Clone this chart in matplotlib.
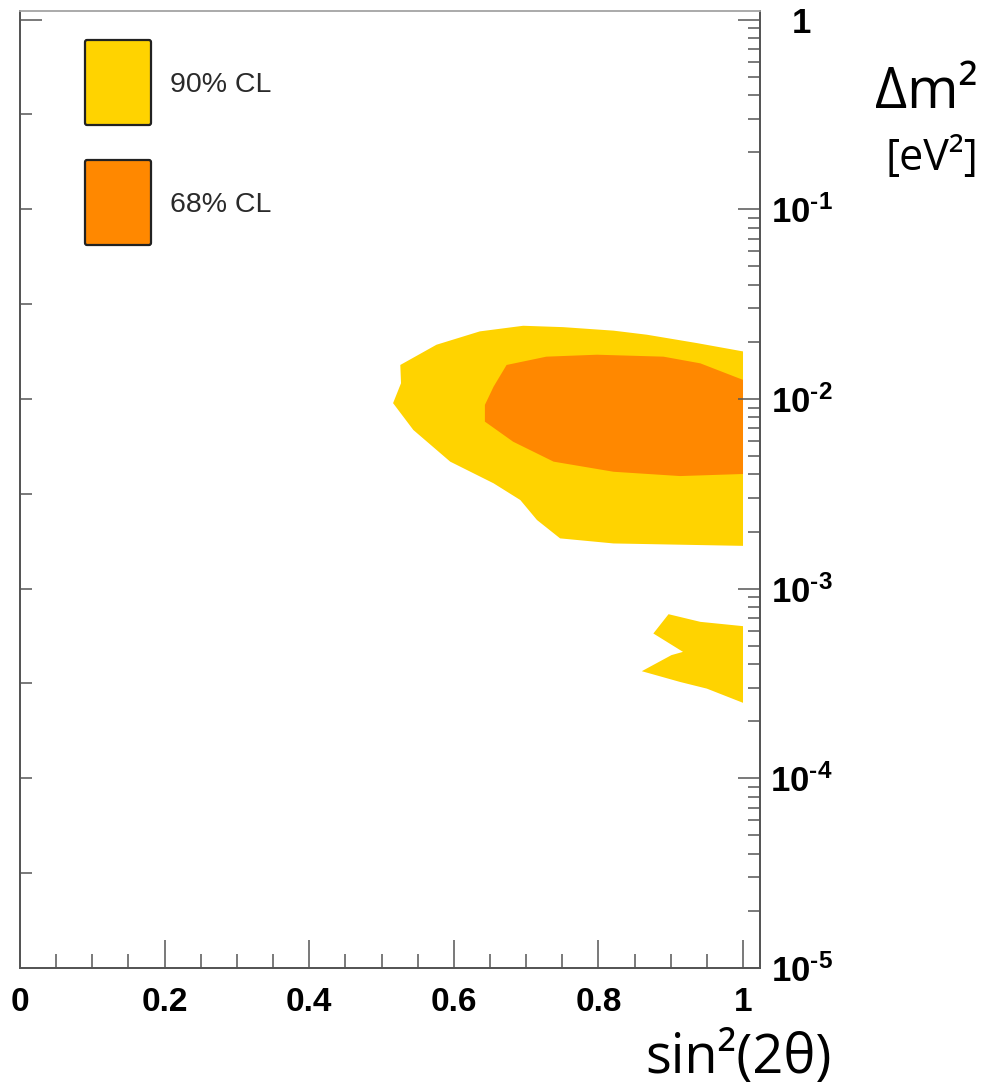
import numpy as np
import matplotlib.pyplot as plt
from matplotlib.patches import FancyBboxPatch
from matplotlib.ticker import FixedLocator, FuncFormatter, NullFormatter

plt.rcParams['mathtext.fontset'] = 'custom'
plt.rcParams['mathtext.rm'] = 'Liberation Sans:bold'
plt.rcParams['mathtext.bf'] = 'Liberation Sans:bold'
plt.rcParams['axes.unicode_minus'] = False

# 90% CL contour (main region), sin^2(2theta) vs dm^2
cl90_x = [1.0, 0.936, 0.867, 0.821, 0.751, 0.696, 0.636, 0.576, 0.526, 0.527,
          0.516, 0.544, 0.595, 0.655, 0.692, 0.715, 0.747, 0.821, 1.0]
cl90_y = [0.0178, 0.0197, 0.0218, 0.0229, 0.0239, 0.0243, 0.0227, 0.0193, 0.0151,
          0.0121, 0.0095, 0.00686, 0.00467, 0.00359, 0.00293, 0.00230, 0.00184,
          0.00173, 0.00168]

# 90% CL island at low dm^2
island_x = [0.897, 0.876, 0.917, 0.901, 0.860, 0.913, 0.950, 1.0, 1.0, 0.941]
island_y = [7.33e-4, 5.80e-4, 4.64e-4, 4.46e-4, 3.67e-4, 3.22e-4, 2.97e-4,
            2.50e-4, 6.34e-4, 6.68e-4]

# 68% CL contour
cl68_x = [1.0, 0.941, 0.890, 0.798, 0.728, 0.673, 0.655, 0.643, 0.643, 0.682,
          0.738, 0.821, 0.913, 1.0]
cl68_y = [0.0126, 0.0154, 0.0167, 0.0171, 0.0167, 0.0151, 0.0116, 0.00930,
          0.00759, 0.00595, 0.00467, 0.00413, 0.00392, 0.00402]

legend_labels = ["90% CL", "68% CL"]
YELLOW = "#FFD300"
ORANGE = "#FF8800"

fig = plt.figure(figsize=(9.89, 10.86), dpi=100)
ax = fig.add_axes([20 / 989, 1 - 968 / 1086, 740 / 989, 957 / 1086])

ax.fill(cl90_x, cl90_y, color=YELLOW, lw=0)
ax.fill(island_x, island_y, color=YELLOW, lw=0)
ax.fill(cl68_x, cl68_y, color=ORANGE, lw=0)

ax.set_yscale("log")
ax.set_xlim(0, 1.0235)
ax.set_ylim(1e-5, 1.109)

# left side ticks (half decades) on a twin axis
axl = ax.twinx()
axl.set_yscale("log")
axl.set_ylim(ax.get_ylim())
axl.yaxis.tick_left()
axl.yaxis.set_major_locator(FixedLocator([1]))
axl.yaxis.set_minor_locator(FixedLocator([10 ** (-k / 2) for k in range(1, 10)]))
axl.yaxis.set_major_formatter(NullFormatter())
axl.yaxis.set_minor_formatter(NullFormatter())
axl.tick_params(axis="y", which="major", direction="in", length=15.5, width=1.1, color="#555555")
axl.tick_params(axis="y", which="minor", direction="in", length=8.5, width=1.1, color="#555555")

# x axis
ax.xaxis.set_major_locator(FixedLocator([0, 0.2, 0.4, 0.6, 0.8, 1.0]))
ax.xaxis.set_minor_locator(FixedLocator(np.arange(0, 1.01, 0.05)))
ax.xaxis.set_major_formatter(FuncFormatter(lambda v, p: "0" if v == 0 else ("1" if v == 1 else f"{v:.1f}")))
ax.tick_params(axis="x", which="major", direction="in", length=20, width=1.1,
               color="#555555", pad=14, labelsize=24)
ax.tick_params(axis="x", which="minor", direction="in", length=10, width=1.1, color="#555555")
for lab in ax.get_xticklabels():
    lab.set_fontfamily("Liberation Sans")
    lab.set_fontweight("bold")

# right y axis with labels
decades = [1e-5, 1e-4, 1e-3, 1e-2, 1e-1, 1]
ax.yaxis.tick_right()
ax.yaxis.set_label_position("right")
ax.yaxis.set_major_locator(FixedLocator(decades))
minors = [m * d for d in decades[:-1] for m in range(2, 10)]
ax.yaxis.set_minor_locator(FixedLocator(minors))
ax.yaxis.set_minor_formatter(NullFormatter())


def ylab(v, p):
    e = int(round(np.log10(v)))
    if e == 0:
        return "1"
    return r"$\mathbf{10^{\text{-%d}}}$" % (-e)


ax.yaxis.set_major_formatter(FuncFormatter(ylab))
ax.tick_params(axis="y", which="major", direction="in", length=15.5, width=1.1,
               color="#555555", pad=30, labelsize=25, right=True, left=False,
               labelright=True, labelleft=False)
ax.tick_params(axis="y", which="minor", direction="in", length=8.5, width=1.1,
               color="#555555", right=True, left=False)
for lab in ax.get_yticklabels():
    lab.set_fontfamily("Liberation Sans")
    lab.set_fontweight("bold")
    lab.set_horizontalalignment("center")

for a in (ax, axl):
    for side in ("left", "right", "bottom"):
        a.spines[side].set_color("#555555")
        a.spines[side].set_linewidth(1.3)
    a.spines["top"].set_color("#aaaaaa")
    a.spines["top"].set_linewidth(1.2)

# legend swatches
for i, (lab, col) in enumerate(zip(legend_labels, [YELLOW, ORANGE])):
    y0 = 1 - (125 + 120 * i) / 1086
    box = FancyBboxPatch((85 / 989, y0), 66 / 989, 85 / 1086,
                         boxstyle="round,pad=0,rounding_size=0.002",
                         transform=fig.transFigure, facecolor=col,
                         edgecolor="#222222", lw=1.6)
    fig.patches.append(box)
    fig.text(170 / 989, 1 - (85 + 120 * i) / 1086, lab, fontsize=20.5,
             family="Liberation Sans", color="#2a2a2a", va="center", ha="left")

fig.text(978 / 989, 1 - 108 / 1086, "Δm²", fontsize=40, family="Open Sans",
         ha="right", va="baseline")
fig.text(978 / 989, 1 - 170 / 1086, "[eV²]", fontsize=31, family="Open Sans",
         ha="right", va="baseline")
fig.text(832 / 989, 1 - 1073 / 1086, "sin²(2θ)", fontsize=39, family="Open Sans",
         ha="right", va="baseline")

fig.savefig("out.png", dpi=100)
